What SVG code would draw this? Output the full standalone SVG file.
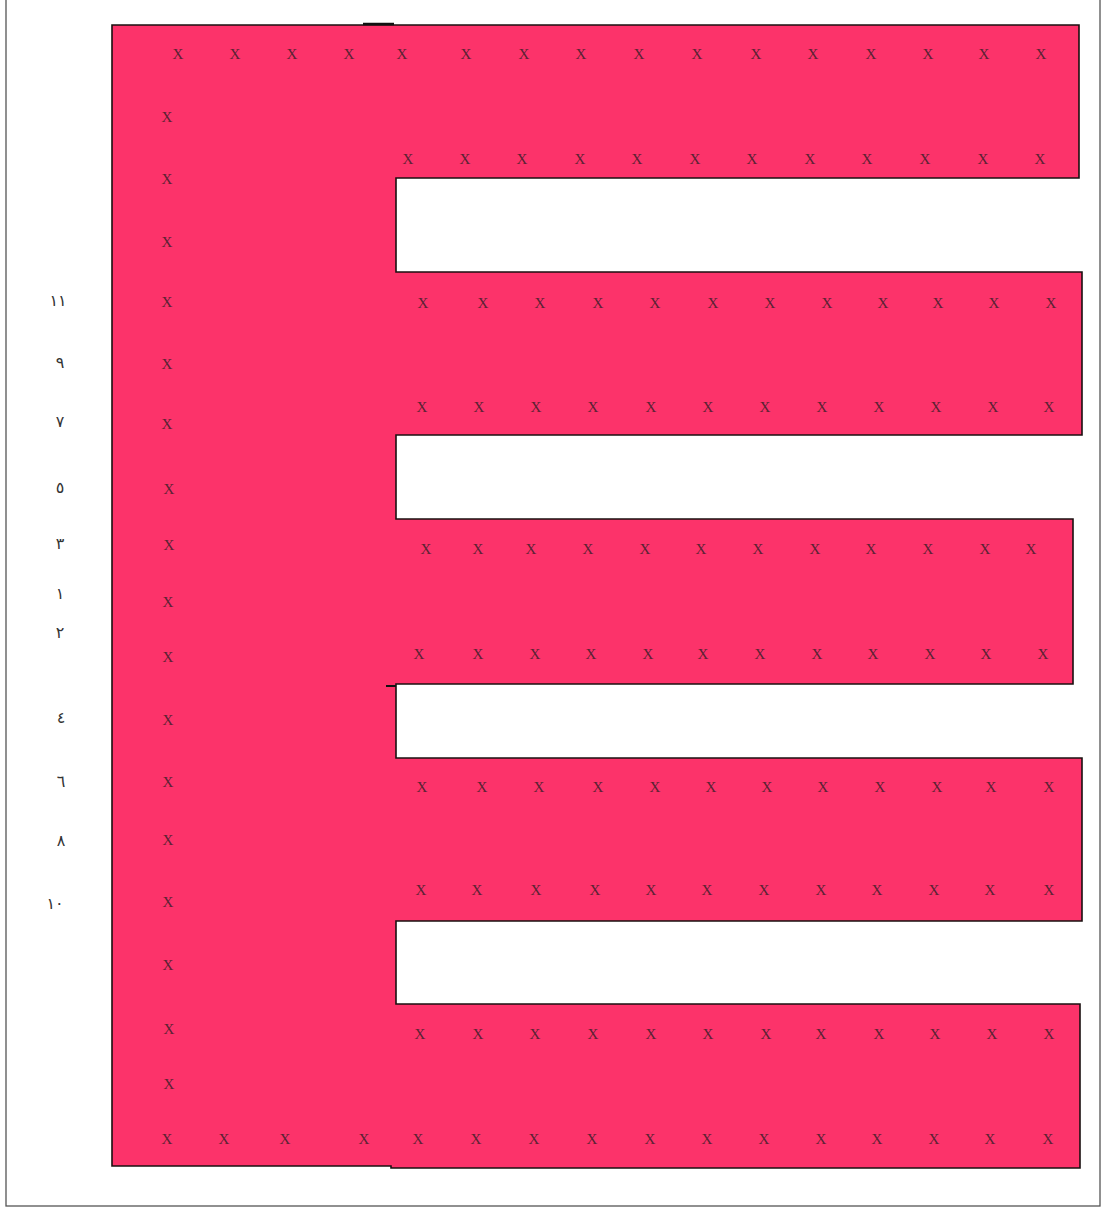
<svg xmlns="http://www.w3.org/2000/svg" width="1102" height="1207" viewBox="0 0 1102 1207">
<style>
.m{font-family:"Liberation Serif","DejaVu Serif",serif;font-size:15px;fill:#5a2233;text-anchor:middle}
.n{font-family:"DejaVu Sans","Noto Sans",sans-serif;font-size:16px;fill:#333;text-anchor:middle}
</style>
<rect x="0" y="0" width="1102" height="1207" fill="#fff"/>
<rect x="6" y="-2" width="1094" height="1208" fill="none" stroke="#555" stroke-width="1.3"/>
<g id="shape">
<path d="M112,25 L1079,25 L1079,178 L396,178 L396,272 L1082,272 L1082,435 L396,435 L396,519 L1073,519 L1073,684 L396,684 L396,758 L1082,758 L1082,921 L396,921 L396,1004 L1080,1004 L1080,1168 L391,1168 L391,1166 L112,1166 Z" fill="#fc336a" stroke="#1a1010" stroke-width="1.6"/>
<line x1="363" y1="24" x2="394" y2="24" stroke="#111" stroke-width="2.5"/>
<line x1="386" y1="686" x2="396" y2="686" stroke="#111" stroke-width="2"/>
</g>
<g id="marks" transform="translate(0,1)">
<g id="row-top">
<text class="m" x="178" y="58">X</text><text class="m" x="235" y="58">X</text><text class="m" x="292" y="58">X</text><text class="m" x="349" y="58">X</text><text class="m" x="402" y="58">X</text><text class="m" x="466" y="58">X</text><text class="m" x="524" y="58">X</text><text class="m" x="581" y="58">X</text><text class="m" x="639" y="58">X</text><text class="m" x="697" y="58">X</text><text class="m" x="756" y="58">X</text><text class="m" x="813" y="58">X</text><text class="m" x="871" y="58">X</text><text class="m" x="928" y="58">X</text><text class="m" x="984" y="58">X</text><text class="m" x="1041" y="58">X</text>
</g>
<g id="col-left">
<text class="m" x="167" y="121">X</text><text class="m" x="167" y="183">X</text><text class="m" x="167" y="246">X</text><text class="m" x="167" y="306">X</text><text class="m" x="167" y="368">X</text><text class="m" x="167" y="428">X</text><text class="m" x="169" y="493">X</text><text class="m" x="169" y="549">X</text><text class="m" x="168" y="606">X</text><text class="m" x="168" y="661">X</text><text class="m" x="168" y="724">X</text><text class="m" x="168" y="786">X</text><text class="m" x="168" y="844">X</text><text class="m" x="168" y="906">X</text><text class="m" x="168" y="969">X</text><text class="m" x="169" y="1033">X</text><text class="m" x="169" y="1088">X</text>
</g>
<g id="arm1">
<text class="m" x="408" y="163">X</text><text class="m" x="465" y="163">X</text><text class="m" x="522" y="163">X</text><text class="m" x="580" y="163">X</text><text class="m" x="637" y="163">X</text><text class="m" x="695" y="163">X</text><text class="m" x="752" y="163">X</text><text class="m" x="810" y="163">X</text><text class="m" x="867" y="163">X</text><text class="m" x="925" y="163">X</text><text class="m" x="983" y="163">X</text><text class="m" x="1040" y="163">X</text>
</g>
<g id="arm2">
<text class="m" x="423" y="307">X</text><text class="m" x="483" y="307">X</text><text class="m" x="540" y="307">X</text><text class="m" x="598" y="307">X</text><text class="m" x="655" y="307">X</text><text class="m" x="713" y="307">X</text><text class="m" x="770" y="307">X</text><text class="m" x="827" y="307">X</text><text class="m" x="883" y="307">X</text><text class="m" x="938" y="307">X</text><text class="m" x="994" y="307">X</text><text class="m" x="1051" y="307">X</text>
<text class="m" x="422" y="411">X</text><text class="m" x="479" y="411">X</text><text class="m" x="536" y="411">X</text><text class="m" x="593" y="411">X</text><text class="m" x="651" y="411">X</text><text class="m" x="708" y="411">X</text><text class="m" x="765" y="411">X</text><text class="m" x="822" y="411">X</text><text class="m" x="879" y="411">X</text><text class="m" x="936" y="411">X</text><text class="m" x="993" y="411">X</text><text class="m" x="1049" y="411">X</text>
</g>
<g id="arm3">
<text class="m" x="426" y="553">X</text><text class="m" x="478" y="553">X</text><text class="m" x="531" y="553">X</text><text class="m" x="588" y="553">X</text><text class="m" x="645" y="553">X</text><text class="m" x="701" y="553">X</text><text class="m" x="758" y="553">X</text><text class="m" x="815" y="553">X</text><text class="m" x="871" y="553">X</text><text class="m" x="928" y="553">X</text><text class="m" x="985" y="553">X</text><text class="m" x="1031" y="553">X</text>
<text class="m" x="419" y="658">X</text><text class="m" x="478" y="658">X</text><text class="m" x="535" y="658">X</text><text class="m" x="591" y="658">X</text><text class="m" x="648" y="658">X</text><text class="m" x="703" y="658">X</text><text class="m" x="760" y="658">X</text><text class="m" x="817" y="658">X</text><text class="m" x="873" y="658">X</text><text class="m" x="930" y="658">X</text><text class="m" x="986" y="658">X</text><text class="m" x="1043" y="658">X</text>
</g>
<g id="arm4">
<text class="m" x="422" y="791">X</text><text class="m" x="482" y="791">X</text><text class="m" x="539" y="791">X</text><text class="m" x="598" y="791">X</text><text class="m" x="655" y="791">X</text><text class="m" x="711" y="791">X</text><text class="m" x="767" y="791">X</text><text class="m" x="823" y="791">X</text><text class="m" x="880" y="791">X</text><text class="m" x="937" y="791">X</text><text class="m" x="991" y="791">X</text><text class="m" x="1049" y="791">X</text>
<text class="m" x="421" y="894">X</text><text class="m" x="477" y="894">X</text><text class="m" x="536" y="894">X</text><text class="m" x="595" y="894">X</text><text class="m" x="651" y="894">X</text><text class="m" x="707" y="894">X</text><text class="m" x="764" y="894">X</text><text class="m" x="821" y="894">X</text><text class="m" x="877" y="894">X</text><text class="m" x="934" y="894">X</text><text class="m" x="990" y="894">X</text><text class="m" x="1049" y="894">X</text>
</g>
<g id="arm5">
<text class="m" x="420" y="1038">X</text><text class="m" x="478" y="1038">X</text><text class="m" x="535" y="1038">X</text><text class="m" x="593" y="1038">X</text><text class="m" x="651" y="1038">X</text><text class="m" x="708" y="1038">X</text><text class="m" x="766" y="1038">X</text><text class="m" x="821" y="1038">X</text><text class="m" x="879" y="1038">X</text><text class="m" x="935" y="1038">X</text><text class="m" x="992" y="1038">X</text><text class="m" x="1049" y="1038">X</text>
</g>
<g id="row-bottom">
<text class="m" x="167" y="1143">X</text><text class="m" x="224" y="1143">X</text><text class="m" x="285" y="1143">X</text><text class="m" x="364" y="1143">X</text><text class="m" x="418" y="1143">X</text><text class="m" x="476" y="1143">X</text><text class="m" x="534" y="1143">X</text><text class="m" x="592" y="1143">X</text><text class="m" x="650" y="1143">X</text><text class="m" x="707" y="1143">X</text><text class="m" x="764" y="1143">X</text><text class="m" x="821" y="1143">X</text><text class="m" x="877" y="1143">X</text><text class="m" x="934" y="1143">X</text><text class="m" x="990" y="1143">X</text><text class="m" x="1048" y="1143">X</text>
</g>
</g>
<g id="labels">
<text class="n" x="58" y="306">١١</text>
<text class="n" x="60" y="368">٩</text>
<text class="n" x="60" y="427">٧</text>
<text class="n" x="60" y="493">٥</text>
<text class="n" x="60" y="549">٣</text>
<text class="n" x="60" y="599">١</text>
<text class="n" x="60" y="638">٢</text>
<text class="n" x="61" y="723">٤</text>
<text class="n" x="61" y="787">٦</text>
<text class="n" x="61" y="846">٨</text>
<text class="n" x="55" y="909">١٠</text>
</g>
</svg>
